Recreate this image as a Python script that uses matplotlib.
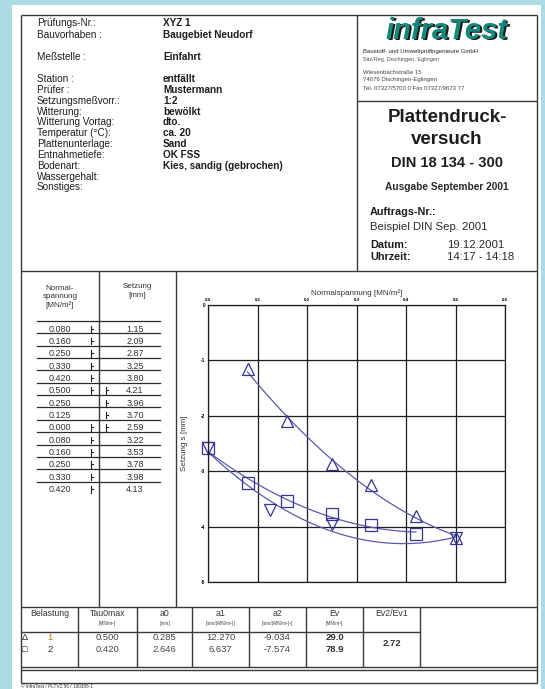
import matplotlib.pyplot as plt
import numpy as np

plt.rcParams['font.family'] = ['Liberation Sans', 'DejaVu Sans']

# header data
info_labels = ["Prüfungs-Nr.:", "Bauvorhaben :", "Meßstelle :", "Station :", "Prüfer :",
               "Setzungsmeßvorr.:", "Witterung:", "Witterung Vortag:", "Temperatur (°C):",
               "Plattenunterlage:", "Entnahmetiefe:", "Bodenart:", "Wassergehalt:", "Sonstiges:"]
info_values = ["XYZ 1", "Baugebiet Neudorf", "Einfahrt", "entfällt", "Mustermann", "1:2",
               "bewölkt", "dto.", "ca. 20", "Sand", "OK FSS", "Kies, sandig (gebrochen)", "", ""]

# measured values (table)
spannung = [0.080, 0.160, 0.250, 0.330, 0.420, 0.500, 0.250, 0.125, 0.000,
            0.080, 0.160, 0.250, 0.330, 0.420]
setzung = [1.15, 2.09, 2.87, 3.25, 3.80, 4.21, 3.96, 3.70, 2.59,
           3.22, 3.53, 3.78, 3.98, 4.13]
check_load = [1, 1, 1, 1, 1, 1, 0, 0, 1, 1, 1, 1, 1, 1]
check_unload = [0, 0, 0, 0, 0, 1, 1, 1, 1, 0, 0, 0, 0, 0]

# branches for the plot
sig_1 = [0.080, 0.160, 0.250, 0.330, 0.420, 0.500]
s_1 = [1.15, 2.09, 2.87, 3.25, 3.80, 4.21]
sig_u = [0.500, 0.250, 0.125, 0.000]
s_u = [4.21, 3.96, 3.70, 2.59]
sig_2 = [0.000, 0.080, 0.160, 0.250, 0.330, 0.420]
s_2 = [2.59, 3.22, 3.53, 3.78, 3.98, 4.13]

# result table
belastung = ["1", "2"]
tau0max = [0.500, 0.420]
a0 = [0.285, 2.646]
a1 = [12.270, 6.637]
a2 = [-9.034, -7.574]
ev = [29.0, 78.9]
ev_ratio = 2.72

W, H = 545, 689
fig = plt.figure(figsize=(W / 100, H / 100), dpi=100)
fig.patch.set_facecolor('#abdce4')

page = fig.add_axes([0, 0, 1, 1])
page.set_xlim(0, W)
page.set_ylim(H, 0)
page.axis('off')
page.add_patch(plt.Rectangle((12, 5), 529, 690, facecolor='white', edgecolor='none'))

lc = '#3a3a3a'
def hline(y, x0=21, x1=537, lw=1.0):
    page.plot([x0, x1], [y, y], color=lc, lw=lw, solid_capstyle='butt')
def vline(x, y0, y1, lw=1.0):
    page.plot([x, x], [y0, y1], color=lc, lw=lw, solid_capstyle='butt')

# frame
hline(15)
hline(683)
vline(21, 15, 683)
vline(537, 15, 683)
hline(271)
vline(357, 15, 271)
hline(101, 357, 537)
vline(99, 271, 607)
vline(176, 271, 607)
hline(607)
hline(632, 21, 420)
hline(667)
hline(670)
for x in [78, 137, 192, 249, 306, 363, 420]:
    vline(x, 607, 667)

tc = '#1e1e1e'
# header left
label_y = [23, 35, 57] + [79 + 10.85 * i for i in range(11)]
for lab, val, y in zip(info_labels, info_values, label_y):
    page.text(37, y, lab, fontsize=7.2, color=tc, va='center')
    page.text(163, y, val, fontsize=7.2, color=tc, va='center', fontweight='bold')

# logo
page.text(448.5, 32.5, "infraTest", fontsize=21, fontweight='heavy', fontstyle='italic',
          color='#1a1a1a', ha='center', va='center')
page.text(447, 31, "infraTest", fontsize=21, fontweight='heavy', fontstyle='italic',
          color='#12897a', ha='center', va='center')
page.text(363, 51, "Baustoff- und Umweltprüfingenieure GmbH", fontsize=4.3, color='#222', va='center')
page.text(363, 60, "Sitz/Reg. Dischingen, Eglingen", fontsize=4, color='#555', va='center')
page.text(363, 72, "Wiesenbachstraße 15", fontsize=4.3, color='#444', va='center')
page.text(363, 80, "74076 Dischingen-Eglingen", fontsize=4.3, color='#444', va='center')
page.text(363, 89, "Tel. 07327/5700 0 Fax 07327/9673 77", fontsize=4.3, color='#444', va='center')

# header right
page.text(447, 117, "Plattendruck-", fontsize=13.5, fontweight='bold', color=tc, ha='center', va='center')
page.text(447, 140, "versuch", fontsize=13.5, fontweight='bold', color=tc, ha='center', va='center')
page.text(447, 163, "DIN 18 134 - 300", fontsize=10.5, fontweight='bold', color=tc, ha='center', va='center')
page.text(447, 187, "Ausgabe September 2001", fontsize=7.3, fontweight='bold', color='#2a2a2a', ha='center', va='center')
page.text(370, 212, "Auftrags-Nr.:", fontsize=7.8, fontweight='bold', color=tc, va='center')
page.text(370, 227, "Beispiel DIN Sep. 2001", fontsize=8.2, color='#2a2a2a', va='center')
page.text(370, 245, "Datum:", fontsize=7.8, fontweight='bold', color=tc, va='center')
page.text(447, 245, "19.12.2001", fontsize=8.2, color='#2a2a2a', va='center')
page.text(370, 257, "Uhrzeit:", fontsize=7.8, fontweight='bold', color=tc, va='center')
page.text(447, 257, "14:17 - 14:18", fontsize=8.2, color='#2a2a2a', va='center')

# measurement table
page.text(60, 297, "Normal-\nspannung\n[MN/m²]", fontsize=5.8, color='#333', ha='center', va='center',
          linespacing=1.15)
page.text(137, 291, "Setzung\n[mm]", fontsize=5.8, color='#333', ha='center', va='center', linespacing=1.3)
for i, (sp, st) in enumerate(zip(spannung, setzung)):
    y = 321 + 12.35 * i
    page.plot([37, 160], [y, y], color='#2a2a2a', lw=0.9)
    page.text(60, y + 8, f"{sp:.3f}", fontsize=6.5, color='#333', ha='center', va='center')
    page.text(135, y + 8, f"{st:.2f}", fontsize=6.5, color='#333', ha='center', va='center')
    for flag, xc in [(check_load[i], 91), (check_unload[i], 106)]:
        if flag:
            page.plot([xc, xc], [y + 4.5, y + 11], color='#222', lw=0.8)
            page.plot([xc, xc + 1.6], [y + 7.5, y + 7.5], color='#222', lw=0.8)

# result table
cols_c = [50, 107.5, 164.5, 220.5, 277.5, 334.5, 391.5]
heads = ["Belastung", "Tau0max", "a0", "a1", "a2", "Ev", "Ev2/Ev1"]
units = ["", "[MN/m²]", "[mm]", "[mm/(MN/m²)]", "[mm/(MN/m²)²]", "[MN/m²]", ""]
for xc, hd, un in zip(cols_c, heads, units):
    page.text(xc, 614, hd, fontsize=6.3, color='#333', ha='center', va='center')
    if un:
        page.text(xc, 623, un, fontsize=3.4, color='#444', ha='center', va='center')
syms = ["Δ", "□"]
for i in range(2):
    y = 637 + 13 * i
    page.text(25, y, syms[i], fontsize=6.5, color='#222', ha='center', va='center')
    page.text(50, y, belastung[i], fontsize=6.8, color='#c87a2a' if i == 0 else '#333',
              ha='center', va='center')
    page.text(cols_c[1], y, f"{tau0max[i]:.3f}", fontsize=6.8, color='#444', ha='center', va='center')
    page.text(cols_c[2], y, f"{a0[i]:.3f}", fontsize=6.8, color='#444', ha='center', va='center')
    page.text(cols_c[3], y, f"{a1[i]:.3f}", fontsize=6.8, color='#444', ha='center', va='center')
    page.text(cols_c[4], y, f"{a2[i]:.3f}", fontsize=6.8, color='#444', ha='center', va='center')
    page.text(cols_c[5], y, f"{ev[i]:.1f}", fontsize=6.8, color='#333', ha='center', va='center',
              fontweight='bold')
page.text(cols_c[6], 644, f"{ev_ratio:.2f}", fontsize=6.8, color='#333', ha='center', va='center',
          fontweight='bold')

page.text(21, 686.5, "© infraTest / PLTV2.56 / 100395-1", fontsize=3.4, color='#333', va='center')

# plot
ax = fig.add_axes([208 / W, 1 - 582 / H, 297 / W, 277 / H])
ax.set_xlim(0, 0.6)
ax.set_ylim(5, 0)
ax.xaxis.tick_top()
ax.xaxis.set_label_position('top')
ax.set_xticks(np.arange(0, 0.61, 0.1))
ax.set_xticklabels([f"{v:.1f}" for v in np.arange(0, 0.61, 0.1)], fontsize=3.2, fontweight='bold')
ax.set_yticks(range(6))
ax.set_yticklabels(["0"] + [f"-{v}" for v in range(1, 6)], fontsize=3.4, fontweight='bold')
ax.tick_params(length=0, pad=2)
ax.grid(True, color='#1e1e1e', lw=0.9)
for sp in ax.spines.values():
    sp.set_color('#1e1e1e')
    sp.set_linewidth(0.9)
ax.set_xlabel("Normalspannung [MN/m²]", fontsize=5.8, color='#333', labelpad=2)
ax.set_ylabel("Setzung s [mm]", fontsize=5.8, color='#333', labelpad=9)

cc = '#5a5aae'
mc = '#34349c'
x1 = np.linspace(min(sig_1), max(sig_1), 100)
ax.plot(x1, a0[0] + a1[0] * x1 + a2[0] * x1 ** 2, color=cc, lw=0.9)
x2 = np.linspace(min(sig_2), max(sig_2), 100)
ax.plot(x2, a0[1] + a1[1] * x2 + a2[1] * x2 ** 2, color=cc, lw=0.9)
cu = np.polyfit(sig_u, s_u, 2)
xu = np.linspace(min(sig_u), max(sig_u), 100)
ax.plot(xu, np.polyval(cu, xu), color=cc, lw=0.9)

ax.plot(sig_1, s_1, ls='none', marker='^', ms=9, mfc='none', mec=mc, mew=0.9, clip_on=False)
ax.plot(sig_u, s_u, ls='none', marker='v', ms=9, mfc='none', mec=mc, mew=0.9, clip_on=False)
ax.plot(sig_2, s_2, ls='none', marker='s', ms=8, mfc='none', mec=mc, mew=0.9, clip_on=False)

fig.savefig("out.png", dpi=100, facecolor=fig.get_facecolor())
